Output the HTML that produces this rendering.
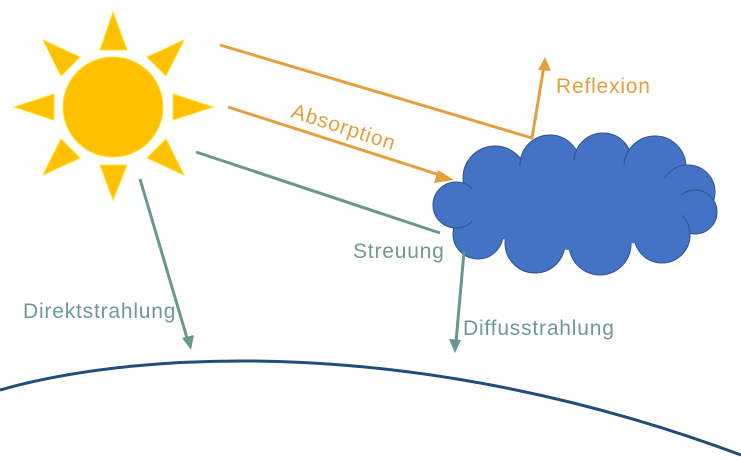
<!DOCTYPE html>
<html><head><meta charset="utf-8"><style>
html,body{margin:0;padding:0;background:#fff;}
svg{display:block;}
text{font-family:"Liberation Sans","DejaVu Sans",sans-serif;font-size:21px;letter-spacing:0.8px;}
</style></head><body>
<svg width="741" height="460" viewBox="0 0 741 460" xmlns="http://www.w3.org/2000/svg">
<!-- sun -->
<g fill="#FFC000" stroke="#FFE030" stroke-width="1">
<circle cx="113" cy="107" r="50"/>
<polygon points="113,12 100,50 127,50"/>
<polygon points="113,200 100,165 127,165"/>
<polygon points="14,107 54,94 54,120"/>
<polygon points="213,107 173,94 173,120"/>
<polygon points="43,40 80,57 61,76"/>
<polygon points="184,40 147,57 166,76"/>
<polygon points="43,175 80,158 61,139"/>
<polygon points="184,175 147,158 166,139"/>
</g>
<!-- cloud -->
<g fill="#4472C4" stroke="#2F528F" stroke-width="1">
<circle cx="495" cy="178" r="32"/>
<circle cx="550" cy="165" r="30"/>
<circle cx="603" cy="162" r="29"/>
<circle cx="655" cy="167" r="31"/>
<circle cx="688" cy="192" r="27"/>
<circle cx="695" cy="212" r="22"/>
<circle cx="662" cy="235" r="28"/>
<circle cx="600" cy="244" r="31"/>
<circle cx="535" cy="243" r="30"/>
<circle cx="478" cy="234" r="25"/>
<circle cx="456" cy="205" r="23"/>
</g>
<g fill="#4472C4"><ellipse cx="575" cy="205" rx="110" ry="45"/></g>
<!-- orange lines -->
<g stroke="#E2A03F" stroke-width="3" fill="none">
<polyline points="220,45 532,138 544,66"/>
<line x1="228" y1="107" x2="446" y2="177"/>
</g>
<polygon points="545,57 538,70 551,71" fill="#E2A03F"/>
<polygon points="454,180 438,170 434,183" fill="#E2A03F"/>
<text x="556" y="93" fill="#E2A03F">Reflexion</text>
<text transform="translate(290,117) rotate(18)" fill="#E2A03F">Absorption</text>
<!-- teal lines -->
<g stroke="#6A9690" stroke-width="3" fill="none">
<line x1="196" y1="152" x2="440" y2="233"/>
<line x1="464" y1="252" x2="456" y2="342"/>
<line x1="140" y1="179" x2="187" y2="338"/>
</g>
<polygon points="455,353 449,339 461,340" fill="#6A9690"/>
<polygon points="191,350 182,338 194,335" fill="#6A9690"/>
<g fill="#6E9A94">
<text x="353" y="258">Streuung</text>
<text x="23" y="318">Direktstrahlung</text>
<text x="463" y="335">Diffusstrahlung</text>
</g>
<!-- earth -->
<path d="M0,390 C140,350 420,335 741,455" stroke="#1F4E79" stroke-width="3" fill="none"/>
</svg>
</body></html>
